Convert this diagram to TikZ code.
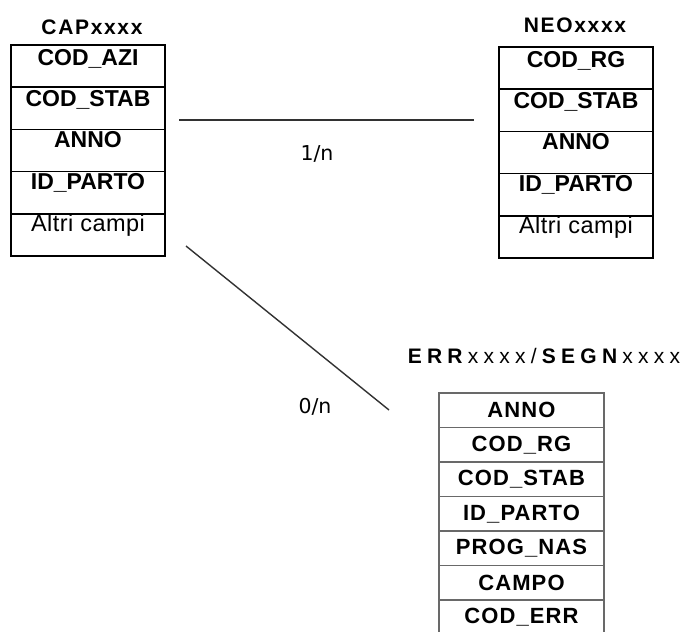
\documentclass[tikz,border=0pt]{standalone}
\usepackage{fontspec}
\setmainfont{Liberation Sans}
\newfontfamily\fieldfont{Liberation Sans}
\newfontfamily\otherfont[LetterSpace=2]{Liberation Sans}
\newfontfamily\errfieldfont[LetterSpace=5]{Liberation Sans}
\newfontfamily\titlefont[LetterSpace=8]{Liberation Sans}
\newfontfamily\errtitlefont[LetterSpace=25]{Liberation Sans}
\newfontfamily\labelfont{DejaVu Sans}
\definecolor{errline}{RGB}{105,105,105}
\definecolor{linkline}{RGB}{50,50,50}
\tikzset{
  capcell/.style={draw=black, line width=1.5pt, minimum width=154pt, minimum height=42.2pt, inner sep=0pt},
  errcell/.style={draw=errline, line width=1.6pt, minimum width=165pt, minimum height=34.5pt, inner sep=0pt,
     font=\errfieldfont\bfseries\fontsize{22}{25}\selectfont},
  fieldtxt/.style={anchor=base, inner sep=0pt, font=\fieldfont\bfseries\fontsize{23}{26}\selectfont},
  othertxt/.style={anchor=base, inner sep=0pt, font=\otherfont\fontsize{23.5}{26}\selectfont},
  tabtitle/.style={anchor=base, inner sep=0pt, font=\titlefont\bfseries\fontsize{21}{24}\selectfont},
  card/.style={anchor=base, inner sep=0pt, font=\labelfont\fontsize{20.5}{24}\selectfont},
  link/.style={draw=linkline, line width=1.4pt}
}
\begin{document}
\begin{tikzpicture}[x=1pt,y=-1pt]
\clip (0,0) rectangle (689,632);
\fill[white] (0,0) rectangle (689,632);
% CAP table
\node[tabtitle] (captitle) at (92,34) {CAPxxxx};
\node[capcell] (cap1) at (88,66.1) {};
\node[capcell] (cap2) at (88,108.3) {};
\node[capcell] (cap3) at (88,150.5) {};
\node[capcell] (cap4) at (88,192.7) {};
\node[capcell] (cap5) at (88,234.9) {};
\node[fieldtxt] at ([yshift=-21pt]cap1.north) {COD\_AZI};
\node[fieldtxt] at ([yshift=-20pt]cap2.north) {COD\_STAB};
\node[fieldtxt] at ([yshift=-18.5pt]cap3.north) {ANNO};
\node[fieldtxt] at ([yshift=-18.5pt]cap4.north) {ID\_PARTO};
\node[othertxt] at ([yshift=-18.5pt]cap5.north) {Altri campi};
% NEO table
\node[tabtitle] (neotitle) at (575,32) {NEOxxxx};
\node[capcell] (neo1) at (576,68.1) {};
\node[capcell] (neo2) at (576,110.3) {};
\node[capcell] (neo3) at (576,152.5) {};
\node[capcell] (neo4) at (576,194.7) {};
\node[capcell] (neo5) at (576,236.9) {};
\node[fieldtxt] at ([yshift=-21pt]neo1.north) {COD\_RG};
\node[fieldtxt] at ([yshift=-20pt]neo2.north) {COD\_STAB};
\node[fieldtxt] at ([yshift=-18.5pt]neo3.north) {ANNO};
\node[fieldtxt] at ([yshift=-18.5pt]neo4.north) {ID\_PARTO};
\node[othertxt] at ([yshift=-18.5pt]neo5.north) {Altri campi};
% ERR table
\node[anchor=base, inner sep=0pt, font=\errtitlefont\fontsize{21}{24}\selectfont] (errtitle) at (544,363)
  {\textbf{ERR}xxxx/\textbf{SEGN}xxxx};
\node[errcell] (err1) at (521.5,410.25) {ANNO};
\node[errcell] (err2) at (521.5,444.75) {COD\_RG};
\node[errcell] (err3) at (521.5,479.25) {COD\_STAB};
\node[errcell] (err4) at (521.5,513.75) {ID\_PARTO};
\node[errcell] (err5) at (521.5,548.25) {PROG\_NAS};
\node[errcell] (err6) at (521.5,582.75) {CAMPO};
\node[errcell] (err7) at (521.5,617.25) {COD\_ERR};
% connectors
\coordinate (l1a) at (179,120);
\coordinate (l1b) at (474,120);
\draw[link] (l1a) -- (l1b);
\node[card] (lab1) at (317,160) {1/n};
\coordinate (l2a) at (186,246);
\coordinate (l2b) at (389,410);
\draw[link] (l2a) -- (l2b);
\node[card] (lab2) at (315,413) {0/n};
\end{tikzpicture}
\end{document}
